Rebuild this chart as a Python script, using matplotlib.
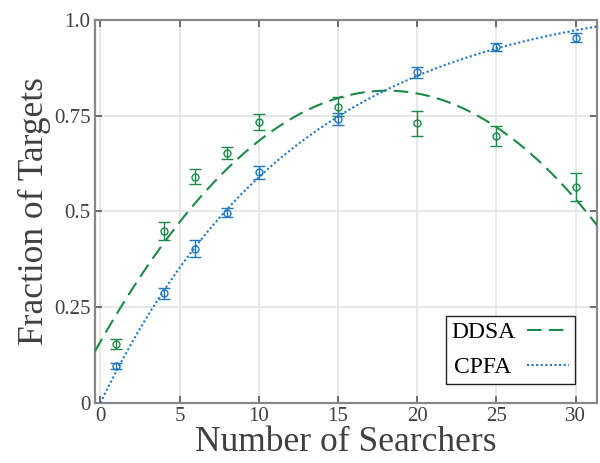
import numpy as np
import matplotlib
matplotlib.use("Agg")
import matplotlib.pyplot as plt

searchers = [1, 4, 6, 8, 10, 15, 20, 25, 30]
ddsa_mean = [0.153, 0.449, 0.591, 0.653, 0.734, 0.773, 0.730, 0.696, 0.563]
ddsa_err = [0.013, 0.023, 0.020, 0.015, 0.021, 0.025, 0.033, 0.026, 0.037]
cpfa_mean = [0.097, 0.286, 0.403, 0.497, 0.602, 0.741, 0.863, 0.930, 0.954]
cpfa_err = [0.008, 0.015, 0.022, 0.0125, 0.017, 0.016, 0.014, 0.011, 0.011]

# fitted curves: DDSA quadratic (highest power first), CPFA A*(1-exp(-x/tau))
ddsa_fit = [-0.0020, 0.0724, 0.160]
cpfa_fit_A = 1.07
cpfa_fit_tau = 12.5

series_labels = ["DDSA", "CPFA"]
x_ticks = [0, 5, 10, 15, 20, 25, 30]
y_ticks = [0, 0.25, 0.5, 0.75, 1.0]
y_ticklabels = ["0", "0.25", "0.5", "0.75", "1.0"]

green = "#1b8a48"
blue = "#1f77c4"
txt = "#404040"

plt.rcParams["font.family"] = ["Liberation Serif", "DejaVu Serif"]

fig = plt.figure(figsize=(6.0, 4.63), dpi=100)
ax = fig.add_axes([0.158, 0.1296, 0.837, 0.8274])

xmin, xmax = -0.35, 31.35
xs = np.linspace(xmin, xmax, 400)
l1, = ax.plot(xs, np.polyval(ddsa_fit, xs), color=green, lw=1.5,
              linestyle=(0, (7, 3.5)), zorder=3)
xs2 = np.linspace(0, xmax, 400)
l2, = ax.plot(xs2, cpfa_fit_A * (1 - np.exp(-xs2 / cpfa_fit_tau)), color=blue,
              lw=1.5, linestyle=(0, (1, 1.2)), zorder=3)

ax.errorbar(searchers, ddsa_mean, yerr=ddsa_err, fmt="o", mfc="none",
            mec=green, ecolor=green, ms=5, mew=1.0, elinewidth=1.0,
            capsize=4, capthick=1.0, zorder=4)
ax.errorbar(searchers, cpfa_mean, yerr=cpfa_err, fmt="o", mfc="none",
            mec=blue, ecolor=blue, ms=5, mew=1.0, elinewidth=1.0,
            capsize=4, capthick=1.0, zorder=4)

ax.set_xlim(xmin, xmax)
ax.set_ylim(0, 1.0)
ax.set_xticks(x_ticks)
ax.set_yticks(y_ticks)
ax.set_yticklabels(y_ticklabels)
ax.grid(True, color="#e4e4e4", lw=1.2, zorder=0)
ax.set_axisbelow(True)
ax.tick_params(direction="in", top=True, right=True, length=5, width=1.2,
               colors="#555555", labelsize=15, labelcolor=txt, pad=3)
for s in ax.spines.values():
    s.set_color("#888888")
    s.set_linewidth(1.6)

ax.set_xlabel("Number of Searchers", fontsize=25.5, color=txt, labelpad=0)
ax.set_ylabel("Fraction of Targets", fontsize=25.5, color=txt, labelpad=2)

# trailing space keeps the right-aligned legend texts flush on the left
leg = ax.legend([l1, l2], [series_labels[0], series_labels[1] + " "],
                loc="lower right", fontsize=17,
                markerfirst=False, fancybox=False, framealpha=1,
                edgecolor="#222222", handlelength=1.8, borderpad=0.25,
                labelspacing=0.55, handletextpad=0.45, borderaxespad=0,
                bbox_to_anchor=(0.956, 0.05))
leg.get_frame().set_linewidth(1.0)

fig.savefig("out.png", dpi=100)
